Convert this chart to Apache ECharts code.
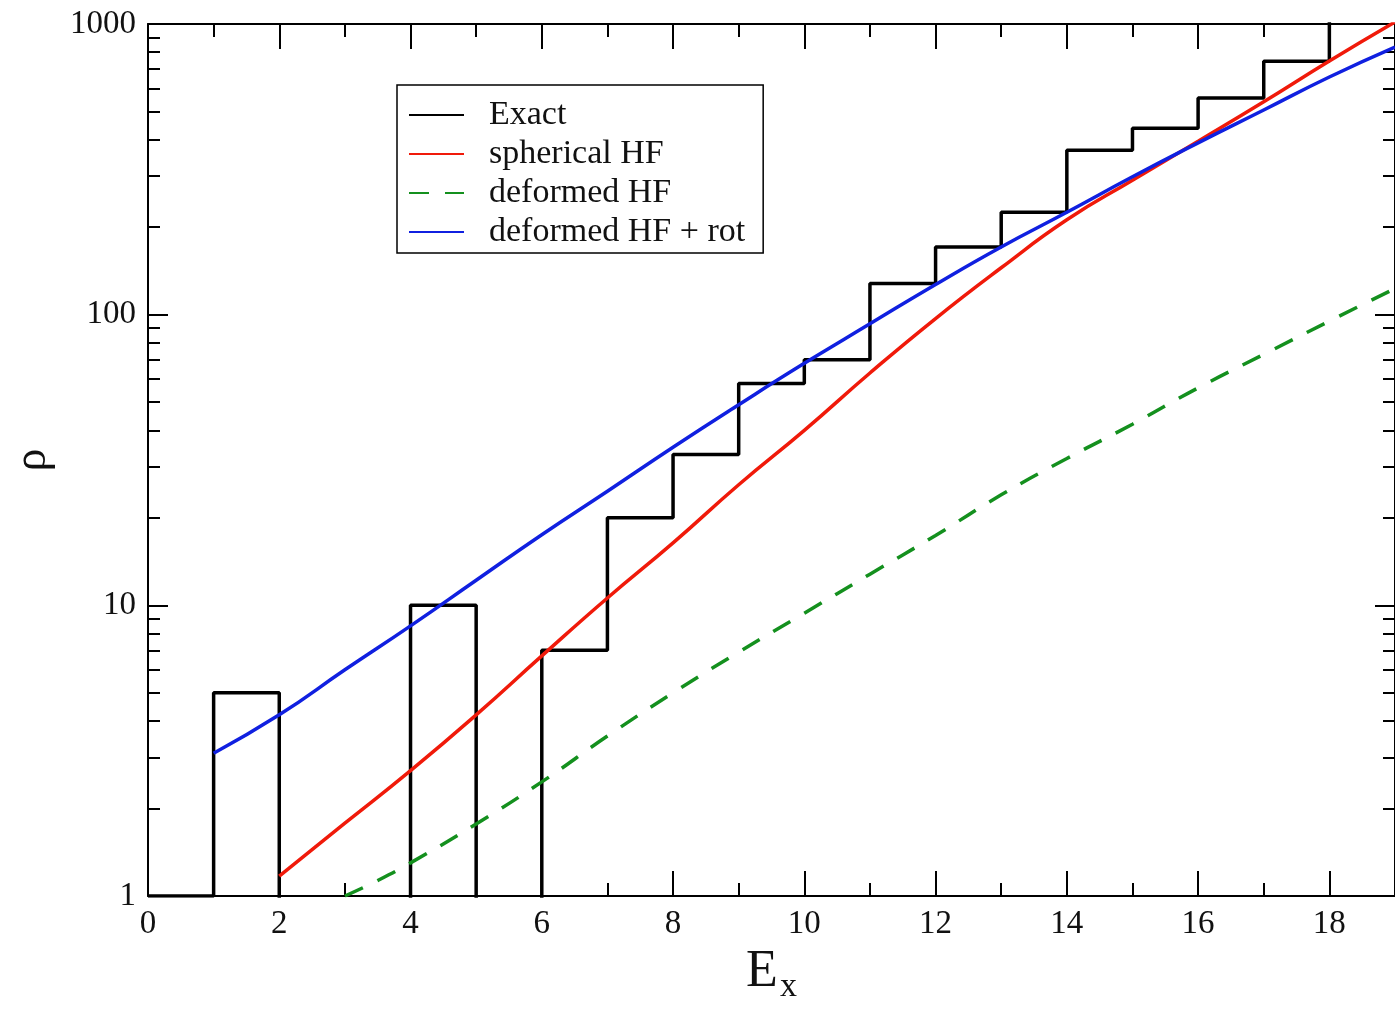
<!DOCTYPE html>
<html>
<head>
<meta charset="utf-8">
<script src="https://cdn.jsdelivr.net/npm/echarts@6/dist/echarts.min.js"></script>
<style>
  html, body { margin: 0; padding: 0; background: #fff; }
  #main { width: 1395px; height: 1010px; }
</style>
</head>
<body>
<div id="main"></div>
<script>
// level density: exact step function (value holds on [x, x+1]); 0.1 = no levels (off scale)
var exactX = [0, 1, 2, 3, 4, 5, 6, 7, 8, 9, 10, 11, 12, 13, 14, 15, 16, 17, 18];
var exactRho = [1, 5, 0.1, 0.1, 10, 0.1, 7, 20, 33, 58, 70, 128, 171, 225, 368, 438, 556, 745, 1500];

var sphX = [2, 3, 4, 5, 6, 7, 8, 9, 10, 11, 12, 13, 14, 15, 16, 17, 18, 19];
var sphRho = [1.17, 1.78, 2.7, 4.2, 6.7, 10.6, 16.4, 26, 40, 63, 97, 145, 212, 290, 395, 540, 746, 1016];

var defX = [3, 3.5, 4, 5, 6, 7, 8, 9, 10, 11, 12, 13, 14, 15, 16, 17, 18, 19];
var defRho = [1.0, 1.13, 1.3, 1.77, 2.47, 3.55, 5.0, 6.9, 9.4, 12.8, 17.4, 24, 32, 42, 56, 73, 95, 123];

var rotX = [1, 2, 3, 4, 5, 6, 7, 8, 9, 10, 11, 12, 13, 14, 15, 16, 17, 18, 19];
var rotRho = [3.1, 4.2, 6.0, 8.5, 12.2, 17.5, 24.7, 35, 49, 68, 93, 127, 171, 225, 298, 390, 506, 657, 833];

var seriesNames = ['Exact', 'spherical HF', 'deformed HF', 'deformed HF + rot'];

function pairs(xs, ys) {
  return xs.map(function (x, i) { return [x, ys[i]]; });
}

var font = 'Liberation Serif, Times New Roman, serif';
var black = '#000';

function xAxisCfg(pos) {
  return {
    type: 'value',
    position: pos,
    min: 0,
    max: 19,
    interval: 2,
    axisLine: { show: true, onZero: false, lineStyle: { color: black, width: 2 } },
    axisTick: { show: true, inside: true, length: 25, lineStyle: { color: black, width: 2 } },
    minorTick: { show: true, splitNumber: 2, length: 13, lineStyle: { color: black, width: 2 } },
    splitLine: { show: false },
    axisLabel: {
      show: pos === 'bottom',
      showMaxLabel: false,
      margin: 12,
      fontSize: 33,
      fontFamily: font,
      color: '#111'
    }
  };
}

function yAxisCfg(pos) {
  return {
    type: 'log',
    logBase: 10,
    position: pos,
    min: 1,
    max: 1000,
    axisLine: { show: true, onZero: false, lineStyle: { color: black, width: 2 } },
    axisTick: { show: true, inside: true, length: 20, lineStyle: { color: black, width: 2 } },
    minorTick: { show: true, splitNumber: 9, length: 12, lineStyle: { color: black, width: 2 } },
    splitLine: { show: false },
    axisLabel: {
      show: pos === 'left',
      margin: 12,
      fontSize: 33,
      fontFamily: font,
      color: '#111',
      formatter: function (v) { return String(Math.round(v)); }
    }
  };
}

var xBottom = xAxisCfg('bottom');
xBottom.name = '{e|E}{s|x}';
xBottom.nameLocation = 'middle';
xBottom.nameGap = 40;
xBottom.nameTextStyle = {
  fontFamily: font,
  color: '#111',
  rich: {
    e: { fontSize: 52, fontFamily: font, color: '#111' },
    s: { fontSize: 34, fontFamily: font, color: '#111', padding: [30, 0, 0, 2] }
  }
};

var yLeft = yAxisCfg('left');
yLeft.name = 'ρ';
yLeft.nameLocation = 'middle';
yLeft.nameGap = 92;
yLeft.nameTextStyle = { fontSize: 46, fontFamily: font, color: '#111' };

var lineCommon = { type: 'line', showSymbol: false, symbol: 'none', clip: true, xAxisIndex: 0, yAxisIndex: 0 };

var option = {
  animation: false,
  backgroundColor: '#fff',
  grid: { left: 148, right: 0, top: 24, bottom: 114, containLabel: false, outerBoundsMode: 'none' },
  xAxis: [xBottom, xAxisCfg('top')],
  yAxis: [yLeft, yAxisCfg('right')],
  legend: {
    orient: 'vertical',
    left: 397,
    top: 85,
    padding: [13, 18, 4, 11],
    itemGap: 5,
    itemWidth: 55,
    itemHeight: 14,
    borderColor: black,
    borderWidth: 1.5,
    backgroundColor: '#fff',
    itemStyle: { opacity: 0 },
    data: seriesNames,
    textStyle: { fontSize: 34, lineHeight: 34, fontFamily: font, color: '#111', padding: [0, 0, 0, 20] }
  },
  series: [
    Object.assign({}, lineCommon, {
      name: seriesNames[0], step: 'end',
      color: black,
      lineStyle: { color: black, width: 3.5 },
      data: pairs(exactX, exactRho)
    }),
    Object.assign({}, lineCommon, {
      name: seriesNames[1], smooth: true,
      color: '#f01a0a',
      lineStyle: { color: '#f01a0a', width: 3.5 },
      data: pairs(sphX, sphRho)
    }),
    Object.assign({}, lineCommon, {
      name: seriesNames[2], smooth: true,
      color: '#14901e',
      lineStyle: { color: '#14901e', width: 3.5, type: [20, 16] },
      data: pairs(defX, defRho)
    }),
    Object.assign({}, lineCommon, {
      name: seriesNames[3], smooth: true,
      color: '#1020e0',
      lineStyle: { color: '#1020e0', width: 3.5 },
      data: pairs(rotX, rotRho)
    })
  ]
};

var myChart = echarts.init(document.getElementById('main'));
myChart.setOption(option);
</script>
</body>
</html>
